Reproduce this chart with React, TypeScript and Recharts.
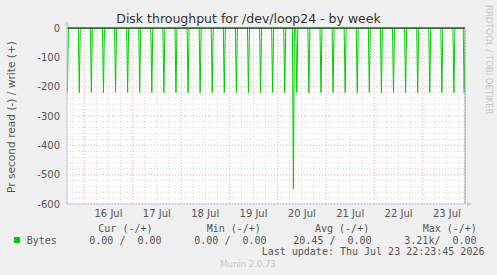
import { LineChart, Line, XAxis, YAxis, CartesianGrid, ReferenceLine } from "recharts"

// hours since 16 Jul 00:00 (x axis), bytes per second (read is drawn negative)
const dayLabels = ["16 Jul", "17 Jul", "18 Jul", "19 Jul", "20 Jul", "21 Jul", "22 Jul", "23 Jul"]
const dayLabelHours = [12, 36, 60, 84, 108, 132, 156, 180]
const midnightHours = [0, 24, 48, 72, 96, 120, 144, 168]
const yTicks = [0, -100, -200, -300, -400, -500, -600]

const spikeHours = [
  -8.4, -2.5, 3.5, 9.5, 15.5, 21.5, 27.5, 33.5, 39.5, 45.5, 51.5, 57.5, 63.5, 69.5, 75.5, 81.5, 87.5,
  93.5, 99.5, 103.8, 105.5, 111.5, 117.5, 123.5, 129.5, 135.5, 141.5, 147.5, 153.5, 159.5, 165.5,
  171.5, 177.5, 183.5, 188.6,
]
const spikeValues = [
  -220, -220, -220, -220, -220, -220, -220, -220, -220, -220, -220, -220, -220, -220, -220, -220, -220,
  -220, -220, -549, -220, -220, -220, -220, -220, -220, -220, -220, -220, -220, -220,
  -220, -220, -220, -220,
]

const X_MIN = -8.6
const X_MAX = 189

// each read spike is one 30 min sample between zero samples
const data: { h: number; read: number }[] = [{ h: X_MIN, read: 0 }]
spikeHours.forEach((h, i) => {
  data.push({ h: h - 0.5, read: 0 })
  data.push({ h, read: spikeValues[i] })
  data.push({ h: h + 0.5, read: 0 })
})
data.push({ h: X_MAX, read: 0 })

const minorX: number[] = []
for (let h = -6; h < X_MAX; h += 6) if (h % 24 !== 0) minorX.push(h)
const minorY: number[] = []
for (let v = -20; v > -600; v -= 20) if (v % 100 !== 0) minorY.push(v)
const majorY = yTicks.filter((v) => v !== 0)

const font = "'DejaVu Sans', sans-serif"
const mono = "'DejaVu Sans Mono', monospace"
const txt = "#555"
const axisCol = "#c8cce8"
const pre = (s: string) => s.replace(/ /g, "\u00a0")

export default function App() {
  return (
    <div style={{ position: "absolute", left: 0, top: 0, width: 497, height: 275, background: "#f0f0f0" }}>
      <LineChart width={497} height={275} data={data} margin={{ top: 28, right: 32, bottom: 51, left: 0 }}>
        <XAxis
          xAxisId="main"
          dataKey="h"
          type="number"
          domain={[X_MIN, X_MAX]}
          allowDataOverflow
          ticks={dayLabelHours}
          interval={0}
          tickFormatter={(v: number) => dayLabels[dayLabelHours.indexOf(v)] ?? ""}
          tickLine={false}
          tickSize={4}
          tickMargin={2}
          height={20}
          axisLine={{ stroke: axisCol }}
          tick={{ fontFamily: font, fontSize: 10, fill: txt }}
        />
        <XAxis xAxisId="minor" dataKey="h" type="number" domain={[X_MIN, X_MAX]} allowDataOverflow ticks={minorX} interval={0} hide />
        <XAxis xAxisId="major" dataKey="h" type="number" domain={[X_MIN, X_MAX]} allowDataOverflow ticks={midnightHours} interval={0} hide />
        <YAxis
          yAxisId="main"
          type="number"
          domain={[-600, 0]}
          allowDataOverflow
          ticks={yTicks}
          interval={0}
          width={67}
          tickLine={false}
          tickSize={6}
          tickMargin={1}
          axisLine={{ stroke: axisCol }}
          tick={{ fontFamily: font, fontSize: 10, fill: txt }}
        />
        <YAxis yAxisId="minor" type="number" domain={[-600, 0]} allowDataOverflow ticks={minorY} interval={0} hide />
        <YAxis yAxisId="major" type="number" domain={[-600, 0]} allowDataOverflow ticks={majorY} interval={0} hide />
        <CartesianGrid xAxisId="minor" yAxisId="minor" fill="#ffffff" stroke="#d4d4d4" strokeDasharray="1 2" />
        <CartesianGrid xAxisId="major" yAxisId="major" stroke="#e8a8a8" strokeDasharray="1 2" />
        <Line
          xAxisId="main"
          yAxisId="main"
          dataKey="read"
          type="linear"
          stroke="#00cc00"
          strokeWidth={1}
          dot={false}
          isAnimationActive={false}
        />
        <ReferenceLine xAxisId="main" yAxisId="main" y={0} stroke="#000" strokeWidth={1} />
        <ReferenceLine xAxisId="main" yAxisId="main" x={X_MAX} stroke="#aaa" strokeWidth={1} />
      </LineChart>
      <svg width={497} height={275} style={{ position: "absolute", left: 0, top: 0, pointerEvents: "none" }}>
        {/* axis arrows */}
        <line x1={67} y1={28} x2={67} y2={23} stroke={axisCol} />
        <path d="M64.5,26 L67,21 L69.5,26 Z" fill={axisCol} />
        <line x1={465} y1={204} x2={470} y2={204} stroke={axisCol} />
        <path d="M467,201.5 L472,204 L467,206.5 Z" fill={axisCol} />

        <text x={248.5} y={23} textAnchor="middle" fontFamily={font} fontSize={12.5} fill="#333">
          Disk throughput for /dev/loop24 - by week
        </text>
        <text
          x={14.5}
          y={117}
          textAnchor="middle"
          transform="rotate(-90 14.5 117)"
          fontFamily={font}
          fontSize={10.6}
          fill={txt}
        >
          Pr second read (-) / write (+)
        </text>
        <text
          x={486}
          y={5}
          transform="rotate(90 486 5)"
          fontFamily={font}
          fontSize={8.5}
          fill="#c8c8c8"
        >
          RRDTOOL / TOBI OETIKER
        </text>

        <g fontFamily={mono} fontSize={10} fill={txt}>
          <text x={98.3} y={231.5}>{pre("Cur (-/+)")}</text>
          <text x={206.7} y={231.5}>{pre("Min (-/+)")}</text>
          <text x={315} y={231.5}>{pre("Avg (-/+)")}</text>
          <text x={422.7} y={231.5}>{pre("Max (-/+)")}</text>
          <text x={26.7} y={243.5}>Bytes</text>
          <text x={89.3} y={243.5}>{pre("0.00 /  0.00")}</text>
          <text x={194.3} y={243.5}>{pre("0.00 /  0.00")}</text>
          <text x={293.3} y={243.5}>{pre("20.45 /  0.00")}</text>
          <text x={404.3} y={243.5}>{pre("3.21k/  0.00")}</text>
          <text x={261.7} y={255}>{pre("Last update: Thu Jul 23 22:23:45 2026")}</text>
        </g>
        <rect x={14} y={237} width={6} height={6} fill="#00cc00" />
        <text x={248} y={267} textAnchor="middle" fontFamily={font} fontSize={8.5} fill="#c8c8c8">
          Munin 2.0.73
        </text>
      </svg>
    </div>
  )
}
